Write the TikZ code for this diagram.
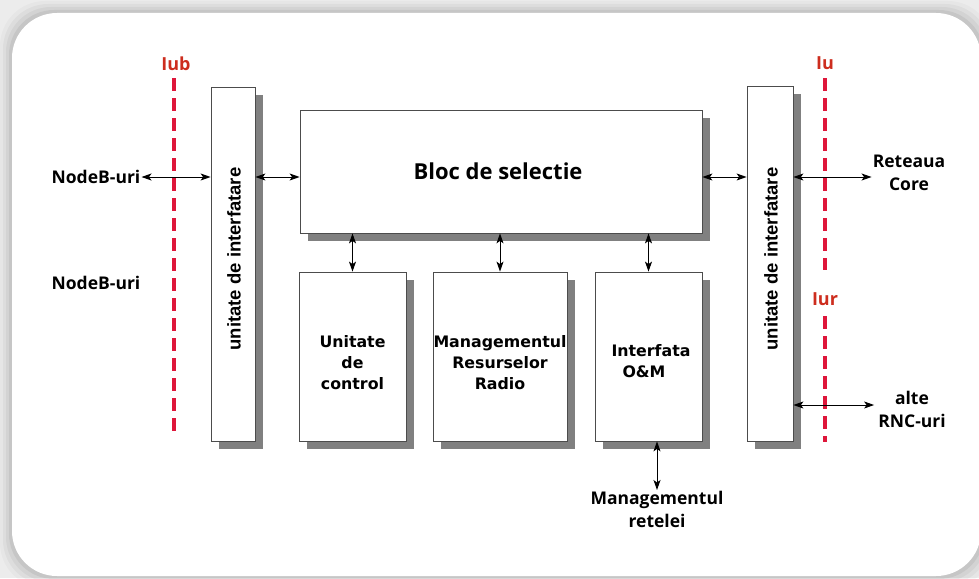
\documentclass[tikz,border=0pt]{standalone}
\usepackage{fontspec}
\setmainfont{DejaVu Sans}
\newfontfamily\osans{Open Sans}
\newfontfamily\lsans{Liberation Sans}
\usetikzlibrary{shadows,arrows.meta}
\definecolor{shadowgray}{RGB}{128,128,128}
\definecolor{ifred}{RGB}{222,22,58}
\definecolor{lblred}{RGB}{205,45,30}
\definecolor{bggray}{RGB}{236,236,236}
\begin{document}
\begin{tikzpicture}[x=1pt,y=-1pt,
  box/.style={draw=black!70, line width=0.8pt, fill=white, rectangle, inner sep=0pt,
    general shadow={fill=shadowgray, shadow xshift=8pt, shadow yshift=-8pt}},
  boxtxt/.style={font=\bfseries\fontsize{15.8}{21}\selectfont, align=center, inner sep=0pt},
  outtxt/.style={font=\osans\bfseries\fontsize{17.5}{23}\selectfont, align=center, inner sep=1pt},
  vtxt/.style={font=\lsans\bfseries\fontsize{18.5}{22}\selectfont, rotate=90, inner sep=0pt},
  iflbl/.style={font=\osans\bfseries\fontsize{18}{22}\selectfont, text=lblred, inner sep=0pt},
  ifline/.style={draw=ifred, line width=3.6pt, dash pattern=on 13pt off 7pt},
  conn/.style={{Stealth[length=10pt,width=7pt,inset=2.5pt]}-{Stealth[length=10pt,width=7pt,inset=2.5pt]}, line width=1pt, black}
]
\useasboundingbox (0,0) rectangle (979,578);
% background card
\fill[bggray] (0,0) rectangle (979,578);
\foreach \d/\o in {12/0.025,9/0.035,6/0.045,3/0.06}
  \fill[black,opacity=\o,rounded corners=45pt] (12-\d,13-\d) rectangle (981+\d,576+\d);
\fill[white,rounded corners=45pt] (12,13) rectangle (981,576);

% interface lines
\node[iflbl] (liub) at (176,64) {Iub};
\node[iflbl] (liu) at (825,63) {Iu};
\node[iflbl] (liur) at (825,299) {Iur};
\coordinate (iubtop) at (174,78);
\coordinate (iubbot) at (174,436);
\coordinate (iutop) at (825,78);
\coordinate (iubot) at (825,270);
\coordinate (iurtop) at (825,316);
\coordinate (iurbot) at (825,442);
\draw[ifline] (iubtop) -- (iubbot);
\draw[ifline] (iutop) -- (iubot);
\draw[ifline] (iurtop) -- (iurbot);

% boxes
\node[box, minimum width=44pt, minimum height=354pt] (lif) at (233,264) {};
\node[box, minimum width=402pt, minimum height=123pt] (bloc) at (501,171.5) {};
\node[box, minimum width=107pt, minimum height=169pt] (uc) at (352.5,356.5) {};
\node[box, minimum width=134pt, minimum height=169pt] (mrr) at (500,356.5) {};
\node[box, minimum width=107pt, minimum height=169pt] (om) at (648.5,356.5) {};
\node[box, minimum width=46pt, minimum height=355pt] (rif) at (770,263.5) {};

% box texts
\node[vtxt] (tlif) at (234,259) {unitate de interfatare};
\node[vtxt] (trif) at (771,259) {unitate de interfatare};
\node[font=\osans\bfseries\fontsize{22}{26}\selectfont, inner sep=0pt] (tbloc) at (498,171) {Bloc de selectie};
\node[boxtxt] (tuc) at (352.5,363) {Unitate\\de\\control};
\node[boxtxt] (tmrr) at (500,363) {Managementul\\Resurselor\\Radio};
\node[boxtxt, align=left] (tom) at (651,361) {Interfata\\\hspace{11pt}O\&M};

% outside labels
\node[outtxt] (nb1) at (96,177) {NodeB-uri};
\node[outtxt] (nb2) at (96,283) {NodeB-uri};
\node[outtxt] (rc) at (909,173) {Reteaua\\Core};
\node[outtxt] (arnc) at (912,409) {alte\\RNC-uri};
\node[outtxt, anchor=north] (mr) at (657,490) {Managementul\\retelei};

% connectors
\coordinate (hy) at (0,177);
\coordinate (ay) at (0,405);
\coordinate (omx) at (657,0);
\draw[conn] (nb1.east) -- (lif.west |- hy);
\draw[conn] (lif.east |- hy) -- (bloc.west |- hy);
\draw[conn] (bloc.east |- hy) -- (rif.west |- hy);
\draw[conn] (rif.east |- hy) -- (rc.west |- hy);
\draw[conn] (rif.east |- ay) -- ([xshift=-3pt]arnc.west |- ay);
\draw[conn] (bloc.south -| uc.north) -- (uc.north);
\draw[conn] (bloc.south -| mrr.north) -- (mrr.north);
\draw[conn] (bloc.south -| om.north) -- (om.north);
\draw[conn] (om.south -| omx) -- (mr.north -| omx);
\end{tikzpicture}
\end{document}
